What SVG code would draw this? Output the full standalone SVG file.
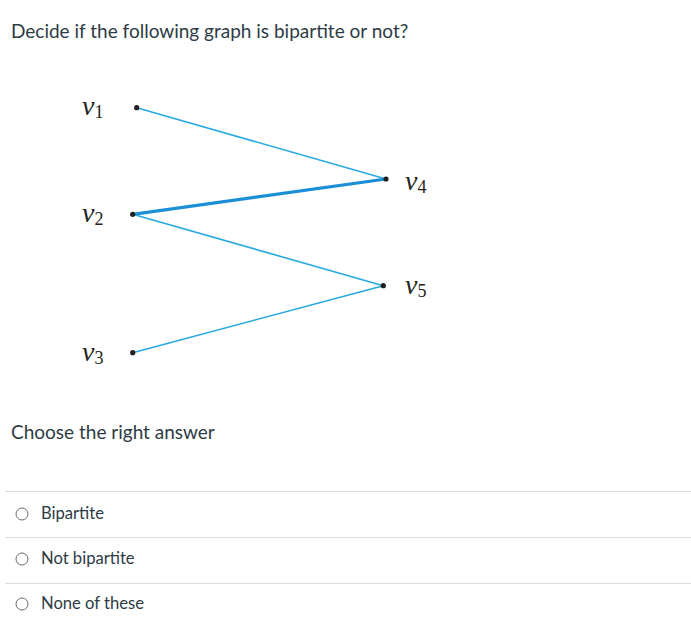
<svg xmlns="http://www.w3.org/2000/svg" width="691" height="643" viewBox="0 0 691 643">
<style>
.ui{font-family:Lato,"Open Sans","Liberation Sans",sans-serif;fill:#2d3b45}
.q{font-size:19px}
.opt{font-size:16.6px}
.v{font-family:"Liberation Serif","DejaVu Serif",serif;font-style:italic;font-size:28px;fill:#231f20}
.sub{font-style:normal;font-size:18px}
.e{stroke:#27a9e1;stroke-width:1.6;fill:none}
.thick{stroke:#1a8fd8;stroke-width:3.2}
.dot{fill:#231f20}
.sep{stroke:#dcdcdc;stroke-width:1}
.radio{fill:#fff;stroke:#6b6b6b;stroke-width:1}
</style>
<rect width="691" height="643" fill="#fff"/>
<text class="ui q" x="11" y="38">Decide if the following graph is bipartite or not?</text>
<g id="connectors">
<line class="e" x1="136.7" y1="107.7" x2="386" y2="179"/>
<line class="e thick" x1="132.7" y1="214.3" x2="386" y2="179"/>
<line class="e" x1="132.7" y1="214.3" x2="383.3" y2="285.7"/>
<line class="e" x1="132.7" y1="352.7" x2="383.3" y2="285.7"/>
</g>
<g id="v1"><circle class="dot" cx="136.7" cy="107.7" r="2.6"/><text class="v" x="82" y="115">v<tspan class="sub" dy="3">1</tspan></text></g>
<g id="v2"><circle class="dot" cx="132.7" cy="214.3" r="2.6"/><text class="v" x="82" y="222">v<tspan class="sub" dy="3">2</tspan></text></g>
<g id="v3"><circle class="dot" cx="132.7" cy="352.7" r="2.6"/><text class="v" x="82" y="361">v<tspan class="sub" dy="3">3</tspan></text></g>
<g id="v4"><circle class="dot" cx="386" cy="179" r="2.6"/><text class="v" x="405" y="190">v<tspan class="sub" dy="3">4</tspan></text></g>
<g id="v5"><circle class="dot" cx="383.3" cy="285.7" r="2.6"/><text class="v" x="405" y="294">v<tspan class="sub" dy="3">5</tspan></text></g>
<text class="ui q" x="11" y="439">Choose the right answer</text>
<line class="sep" x1="5" y1="491.5" x2="691" y2="491.5"/>
<line class="sep" x1="5" y1="537.5" x2="691" y2="537.5"/>
<line class="sep" x1="5" y1="583.5" x2="691" y2="583.5"/>
<circle class="radio" cx="22" cy="514" r="6"/>
<text class="ui opt" x="41" y="519">Bipartite</text>
<circle class="radio" cx="22" cy="559" r="6"/>
<text class="ui opt" x="41" y="564">Not bipartite</text>
<circle class="radio" cx="22" cy="604" r="6"/>
<text class="ui opt" x="41" y="609">None of these</text>
</svg>
